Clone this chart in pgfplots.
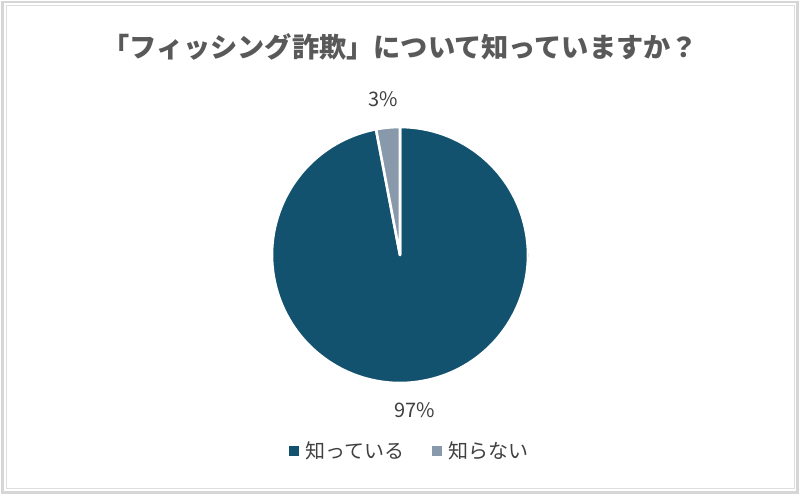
\documentclass[border=0pt]{standalone}
\usepackage{pgfplots}
\usepackage{pgfplotstable}
\pgfplotsset{compat=1.18}
\usepackage{fontspec}
\setmainfont{Noto Sans CJK JP}
\definecolor{knowc}{HTML}{13526F}
\definecolor{notc}{HTML}{8799AA}
\definecolor{titlec}{HTML}{595959}
\definecolor{labc}{HTML}{404040}
\definecolor{framec}{HTML}{D6D6D6}

\pgfplotstableread{
value
97
3
}\piedata

\begin{document}
\begin{tikzpicture}[x=0.5pt,y=0.5pt]
\path[use as bounding box] (0,0) rectangle (800,495);
\fill[white] (0,0) rectangle (800,495);
\draw[framec, line width=1.2pt] (2.5,2.5) rectangle (797.5,493);
\draw[framec!80, line width=0.5pt] (6,7) rectangle (794,490);

\pgfplotstablegetelem{0}{value}\of\piedata \let\va\pgfplotsretval
\pgfplotstablegetelem{1}{value}\of\piedata \let\vb\pgfplotsretval
\pgfmathsetmacro\split{90+3.6*\vb}

\begin{axis}[at={(200pt,120pt)}, anchor=center, scale only axis,
  width=128pt, height=128pt, hide axis,
  xmin=-1, xmax=1, ymin=-1, ymax=1]
\filldraw[fill=knowc, draw=white, line width=1.3pt, line join=round]
  (axis cs:0,0) -- (axis cs:{cos(\split)},{sin(\split)})
  arc[start angle=\split, end angle=450, radius=64pt] -- cycle;
\filldraw[fill=notc, draw=white, line width=1.3pt, line join=round]
  (axis cs:0,0) -- (axis cs:0,1)
  arc[start angle=90, end angle=\split, radius=64pt] -- cycle;
\end{axis}

\node[font=\fontsize{13.6pt}{15pt}\selectfont\bfseries, text=titlec] at (400,448)
  {「フィッシング詐欺」について知っていますか？};
\node[font=\fontsize{10pt}{12pt}\selectfont, text=labc] at (383,396) {\vb\%};
\node[font=\fontsize{10pt}{12pt}\selectfont, text=labc] at (415,85) {\va\%};

\fill[knowc] (289,39) rectangle (299,49);
\node[font=\fontsize{10pt}{12pt}\selectfont, text=labc, anchor=west, inner sep=0pt] at (305,44) {知っている};
\fill[notc] (432,39) rectangle (442,49);
\node[font=\fontsize{10pt}{12pt}\selectfont, text=labc, anchor=west, inner sep=0pt] at (448,44) {知らない};
\end{tikzpicture}
\end{document}
